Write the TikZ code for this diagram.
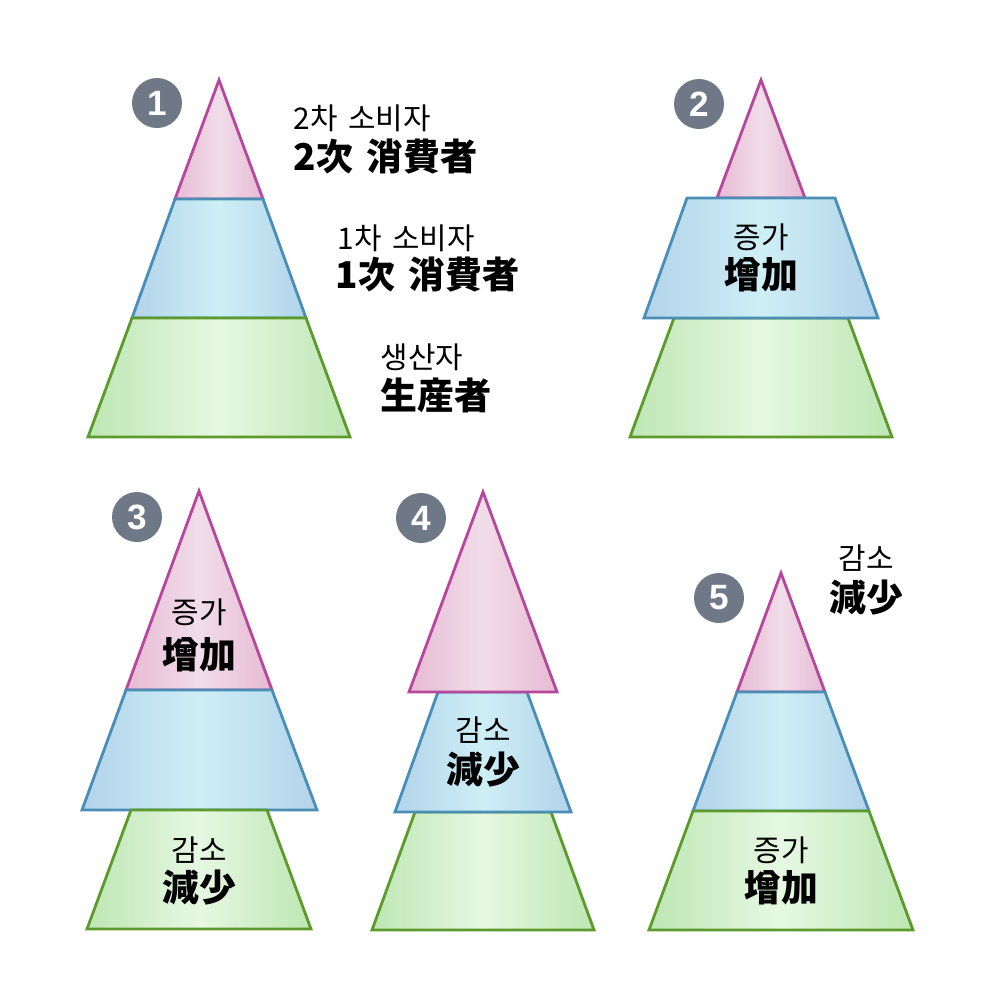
\documentclass[tikz,border=0pt]{standalone}
\usepackage{fontspec}
\newfontfamily\krfont[WordSpace=1.6]{Noto Sans CJK KR}
\newfontfamily\numfont{Liberation Sans}

\definecolor{pinkline}{HTML}{B5479C}
\definecolor{pinkedge}{HTML}{E7BAD4}
\definecolor{pinkmid}{HTML}{F1DDE9}
\definecolor{blueline}{HTML}{4A8EB6}
\definecolor{blueedge}{HTML}{B2D3EA}
\definecolor{bluemid}{HTML}{CEEFF5}
\definecolor{greenline}{HTML}{5C9A2C}
\definecolor{greenedge}{HTML}{BEE6B4}
\definecolor{greenmid}{HTML}{E6F8E2}
\definecolor{badgegray}{HTML}{6F7886}

\begin{document}
\begin{tikzpicture}[x=0.1mm,y=-0.1mm,
    pinklayer/.style={draw=pinkline,left color=pinkedge,right color=pinkedge,middle color=pinkmid,line width=0.8pt},
    bluelayer/.style={draw=blueline,left color=blueedge,right color=blueedge,middle color=bluemid,line width=0.8pt},
    greenlayer/.style={draw=greenline,left color=greenedge,right color=greenedge,middle color=greenmid,line width=0.8pt},
    badge/.style={circle,fill=badgegray,minimum size=5mm,inner sep=0pt,text=white,font=\numfont\bfseries\fontsize{10}{10}\selectfont},
    hangul/.style={inner sep=0pt,font=\krfont\fontsize{8.5}{9}\selectfont},
    hanja/.style={inner sep=0pt,font=\krfont\bfseries\fontsize{10.5}{12}\selectfont}]
    \useasboundingbox (0,0) rectangle (1000,1000);

    % pyramid 1
    \draw[pinklayer] (175,199) -- (219,80) -- (263,199) -- cycle;
    \draw[bluelayer] (132,318) -- (175,199) -- (263,199) -- (306,318) -- cycle;
    \draw[greenlayer] (88,437) -- (132,318) -- (306,318) -- (350,437) -- cycle;
    \node[badge] (b1) at (157,103) {1};
    \node[hangul,anchor=west] (c2kr) at (293,118) {2차 소비자};
    \node[hanja,anchor=west] (c2hj) at (293,157) {2次 消費者};
    \node[hangul,anchor=west] (c1kr) at (337,238) {1차 소비자};
    \node[hanja,anchor=west] (c1hj) at (335,275) {1次 消費者};
    \node[hangul,anchor=west] (pdkr) at (380,357) {생산자};
    \node[hanja,anchor=west] (pdhj) at (380,395) {生産者};

    % pyramid 2
    \draw[pinklayer] (717,198) -- (761,80) -- (805,198) -- cycle;
    \draw[greenlayer] (630,437) -- (674,318) -- (848,318) -- (892,437) -- cycle;
    \draw[bluelayer] (644,318) -- (687,198) -- (835,198) -- (878,318) -- cycle;
    \node[badge] (b2) at (699,104) {2};
    \node[hangul] (up2kr) at (761,237) {증가};
    \node[hanja] (up2hj) at (761,275) {增加};

    % pyramid 3
    \draw[pinklayer] (126,690) -- (199,491) -- (272,690) -- cycle;
    \draw[bluelayer] (82,810) -- (126,690) -- (272,690) -- (317,810) -- cycle;
    \draw[greenlayer] (87,929) -- (131,810) -- (267,810) -- (311,929) -- cycle;
    \node[badge] (b3) at (137,517) {3};
    \node[hangul] (up3kr) at (199,612) {증가};
    \node[hanja] (up3hj) at (199,655) {增加};
    \node[hangul] (dn3kr) at (199,850) {감소};
    \node[hanja] (dn3hj) at (199,888) {減少};

    % pyramid 4
    \draw[greenlayer] (372,930) -- (415,812) -- (551,812) -- (594,930) -- cycle;
    \draw[bluelayer] (395,812) -- (438,692) -- (527,692) -- (571,812) -- cycle;
    \draw[pinklayer] (409,692) -- (483,492) -- (557,692) -- cycle;
    \node[badge] (b4) at (421,518) {4};
    \node[hangul] (dn4kr) at (483,730) {감소};
    \node[hanja] (dn4hj) at (483,770) {減少};

    % pyramid 5
    \draw[pinklayer] (737,692) -- (781,573) -- (825,692) -- cycle;
    \draw[bluelayer] (693,811) -- (737,692) -- (825,692) -- (869,811) -- cycle;
    \draw[greenlayer] (649,930) -- (693,811) -- (869,811) -- (913,930) -- cycle;
    \node[badge] (b5) at (719,598) {5};
    \node[hangul] (dn5kr) at (866,558) {감소};
    \node[hanja] (dn5hj) at (866,598) {減少};
    \node[hangul] (up5kr) at (781,850) {증가};
    \node[hanja] (up5hj) at (781,888) {增加};
\end{tikzpicture}
\end{document}
